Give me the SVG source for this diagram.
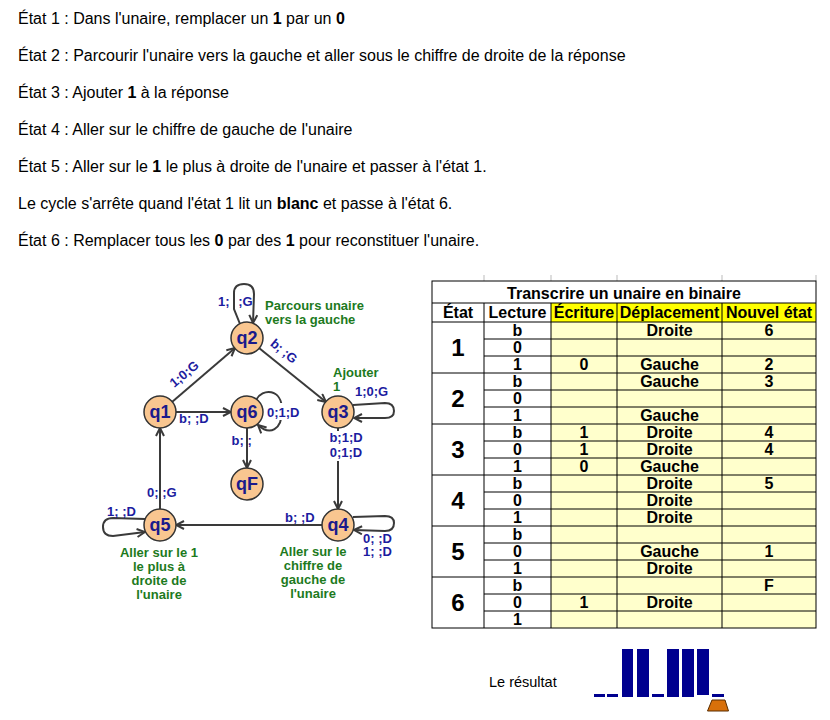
<svg xmlns="http://www.w3.org/2000/svg" width="830" height="720" viewBox="0 0 830 720">
<style>
.p{font-family:"Liberation Sans",Arial,sans-serif;font-size:16px;fill:#000}
.bd{font-weight:bold}
.node circle{fill:#f9c690;stroke:#333;stroke-width:1.5}
.node text{font-family:"Liberation Sans",Arial,sans-serif;font-weight:bold;font-size:18px;fill:#1a1a8c;text-anchor:middle}
.el{font-family:"Liberation Sans",Arial,sans-serif;font-weight:bold;font-size:13px;fill:#1c1ca0}
.gl{font-family:"Liberation Sans",Arial,sans-serif;font-weight:bold;font-size:13px;fill:#1d7a1d}
.edge{fill:none;stroke:#3a3a3a;stroke-width:2}
.t{font-family:"Liberation Sans",Arial,sans-serif;font-weight:bold;font-size:16px;fill:#000;text-anchor:middle}
.big{font-size:24px}
.grid{stroke:#000;stroke-width:1;fill:none}
.tick{stroke:#bbb;stroke-width:1}
.bar{fill:#00008f}
</style>
<defs>
<marker id="arr" viewBox="0 0 10 10" refX="9" refY="5" markerWidth="10" markerHeight="10" markerUnits="userSpaceOnUse" orient="auto">
<path d="M1,1 L9,5 L1,9" fill="none" stroke="#3a3a3a" stroke-width="2"/>
</marker>
</defs>
<rect width="830" height="720" fill="#fff"/>

<g id="description">
<text class="p" x="18" y="24">État 1 : Dans l'unaire, remplacer un <tspan class="bd">1</tspan> par un <tspan class="bd">0</tspan></text>
<text class="p" x="18" y="61">État 2 : Parcourir l'unaire vers la gauche et aller sous le chiffre de droite de la réponse</text>
<text class="p" x="18" y="98">État 3 : Ajouter <tspan class="bd">1</tspan> à la réponse</text>
<text class="p" x="18" y="135">État 4 : Aller sur le chiffre de gauche de l'unaire</text>
<text class="p" x="18" y="172">État 5 : Aller sur le <tspan class="bd">1</tspan> le plus à droite de l'unaire et passer à l'état 1.</text>
<text class="p" x="18" y="209">Le cycle s'arrête quand l'état 1 lit un <tspan class="bd">blanc</tspan> et passe à l'état 6.</text>
<text class="p" x="18" y="246">État 6 : Remplacer tous les <tspan class="bd">0</tspan> par des <tspan class="bd">1</tspan> pour reconstituer l'unaire.</text>
</g>

<g id="connectors">
<line class="edge" x1="172" y1="402" x2="235" y2="348" marker-end="url(#arr)"/>
<line class="edge" x1="259" y1="348" x2="326" y2="402" marker-end="url(#arr)"/>
<line class="edge" x1="176" y1="412" x2="231" y2="412" marker-end="url(#arr)"/>
<line class="edge" x1="247" y1="428" x2="247" y2="468" marker-end="url(#arr)"/>
<line class="edge" x1="338" y1="428" x2="338" y2="509" marker-end="url(#arr)"/>
<line class="edge" x1="322" y1="525" x2="176" y2="525" marker-end="url(#arr)"/>
<line class="edge" x1="160" y1="509" x2="160" y2="428" marker-end="url(#arr)"/>
<path class="edge" d="M240,324 L234,309 L234,293 Q234,284 244,284 Q254,284 254,294 L253,323" marker-end="url(#arr)"/>
<path class="edge" d="M353,405 L385,403 Q394,403 394,411 Q394,418 385,418 L354,418" marker-end="url(#arr)"/>
<path class="edge" d="M353,517 L385,516 Q394,516 394,523 Q394,531 385,531 L354,530" marker-end="url(#arr)"/>
<path class="edge" d="M145,519 L113,518 Q103,518 103,527 Q103,536 113,536 L145,532" marker-end="url(#arr)"/>
<path class="edge" d="M256,400 C262,388 282,388 282,410 C282,430 270,436 258,425" marker-end="url(#arr)"/>

<text class="el" transform="translate(184,374) rotate(-40)" text-anchor="middle" y="4.5">1;0;G</text>
<text class="el" transform="translate(284,351) rotate(39)" text-anchor="middle" y="4.5">b; ;G</text>
<text class="el" x="218" y="306">1;<tspan dx="5"> ;G</tspan></text>
<text class="el" x="355" y="396">1;0;G</text>
<text class="el" x="179" y="423">b; ;D</text>
<rect x="265" y="403" width="37" height="17" fill="#fff"/>
<text class="el" x="267" y="417">0;1;D</text>
<text class="el" x="231.5" y="445">b; ;</text>
<rect x="327" y="431" width="39" height="30" fill="#fff"/>
<text class="el" x="346" y="441.5" text-anchor="middle">b;1;D</text>
<text class="el" x="346" y="457" text-anchor="middle">0;1;D</text>
<text class="el" x="147" y="496.5">0; ;G</text>
<text class="el" x="107" y="515.5">1; ;D</text>
<text class="el" x="285" y="521.5">b; ;D</text>
<text class="el" x="363" y="542.5">0; ;D</text>
<text class="el" x="363" y="556">1; ;D</text>

<text class="gl" x="265" y="310">Parcours unaire</text>
<text class="gl" x="265" y="324">vers la gauche</text>
<text class="gl" x="333" y="377">Ajouter</text>
<text class="gl" x="333" y="391">1</text>
<text class="gl" text-anchor="middle" x="159" y="557">Aller sur le 1</text>
<text class="gl" text-anchor="middle" x="159" y="571">le plus à</text>
<text class="gl" text-anchor="middle" x="159" y="585">droite de</text>
<text class="gl" text-anchor="middle" x="159" y="599">l'unaire</text>
<text class="gl" text-anchor="middle" x="313" y="556">Aller sur le</text>
<text class="gl" text-anchor="middle" x="313" y="570">chiffre de</text>
<text class="gl" text-anchor="middle" x="313" y="584">gauche de</text>
<text class="gl" text-anchor="middle" x="313" y="598">l'unaire</text>
</g>

<g id="q2" class="node"><circle cx="247" cy="338" r="16"/><text x="247" y="344">q2</text></g>
<g id="q1" class="node"><circle cx="160" cy="412" r="16"/><text x="160" y="418">q1</text></g>
<g id="q6" class="node"><circle cx="247" cy="412" r="16"/><text x="247" y="418">q6</text></g>
<g id="q3" class="node"><circle cx="338" cy="412" r="16"/><text x="338" y="418">q3</text></g>
<g id="qF" class="node"><circle cx="247" cy="484" r="16"/><text x="247" y="490">qF</text></g>
<g id="q5" class="node"><circle cx="160" cy="525" r="16"/><text x="160" y="531">q5</text></g>
<g id="q4" class="node"><circle cx="338" cy="525" r="16"/><text x="338" y="531">q4</text></g>

<g id="table">
<line class="tick" x1="484" y1="275" x2="484" y2="281"/>
<line class="tick" x1="551" y1="275" x2="551" y2="281"/>
<line class="tick" x1="617" y1="275" x2="617" y2="281"/>
<line class="tick" x1="722" y1="275" x2="722" y2="281"/>
<line class="tick" x1="816" y1="275" x2="816" y2="281"/>
<rect x="432" y="281" width="384" height="347" fill="#fff"/>
<rect x="551" y="303" width="265" height="19" fill="#ffff00"/>
<rect x="551" y="322" width="265" height="306" fill="#ffffcc"/>
<g class="grid">
<rect x="432" y="281" width="384" height="347"/>
<path d="M432,303H816M432,322H816M432,373H816M432,424H816M432,475H816M432,526H816M432,577H816"/>
<path d="M484,339H816M484,356H816M484,390H816M484,407H816M484,441H816M484,458H816M484,492H816M484,509H816M484,543H816M484,560H816M484,594H816M484,611H816"/>
<path d="M484,303V628M551,303V628M617,303V628M722,303V628"/>
</g>
<text class="t" x="624" y="299">Transcrire un unaire en binaire</text>
<text class="t" x="458" y="318">État</text>
<text class="t" x="517.5" y="318">Lecture</text>
<text class="t" x="584" y="318">Écriture</text>
<text class="t" x="669.5" y="318">Déplacement</text>
<text class="t" x="769" y="318">Nouvel état</text>

<text class="t big" x="458" y="356">1</text>
<text class="t big" x="458" y="407">2</text>
<text class="t big" x="458" y="458">3</text>
<text class="t big" x="458" y="509">4</text>
<text class="t big" x="458" y="560">5</text>
<text class="t big" x="458" y="611">6</text>

<g class="t">
<text x="517.5" y="336">b</text><text x="517.5" y="353">0</text><text x="517.5" y="370">1</text>
<text x="517.5" y="387">b</text><text x="517.5" y="404">0</text><text x="517.5" y="421">1</text>
<text x="517.5" y="438">b</text><text x="517.5" y="455">0</text><text x="517.5" y="472">1</text>
<text x="517.5" y="489">b</text><text x="517.5" y="506">0</text><text x="517.5" y="523">1</text>
<text x="517.5" y="540">b</text><text x="517.5" y="557">0</text><text x="517.5" y="574">1</text>
<text x="517.5" y="591">b</text><text x="517.5" y="608">0</text><text x="517.5" y="625">1</text>

<text x="669.5" y="336">Droite</text><text x="769" y="336">6</text>
<text x="584" y="370">0</text><text x="669.5" y="370">Gauche</text><text x="769" y="370">2</text>
<text x="669.5" y="387">Gauche</text><text x="769" y="387">3</text>
<text x="669.5" y="421">Gauche</text>
<text x="584" y="438">1</text><text x="669.5" y="438">Droite</text><text x="769" y="438">4</text>
<text x="584" y="455">1</text><text x="669.5" y="455">Droite</text><text x="769" y="455">4</text>
<text x="584" y="472">0</text><text x="669.5" y="472">Gauche</text>
<text x="669.5" y="489">Droite</text><text x="769" y="489">5</text>
<text x="669.5" y="506">Droite</text>
<text x="669.5" y="523">Droite</text>
<text x="669.5" y="557">Gauche</text><text x="769" y="557">1</text>
<text x="669.5" y="574">Droite</text>
<text x="769" y="591">F</text>
<text x="584" y="608">1</text><text x="669.5" y="608">Droite</text>
</g>
</g>

<g id="result">
<text x="489" y="687" font-family="Liberation Sans, Arial, sans-serif" font-size="14.5" fill="#000">Le résultat</text>
<rect class="bar" x="594" y="694" width="11" height="3"/>
<rect class="bar" x="607" y="694" width="11" height="3"/>
<rect class="bar" x="622" y="649" width="11" height="48"/>
<rect class="bar" x="637" y="649" width="12" height="48"/>
<rect class="bar" x="652" y="694" width="12" height="3"/>
<rect class="bar" x="667" y="649" width="12" height="48"/>
<rect class="bar" x="682" y="649" width="12" height="48"/>
<rect class="bar" x="697" y="649" width="12" height="46"/>
<rect class="bar" x="712" y="694" width="12" height="3"/>
<polygon points="712,700 725,700 728.5,711 707.5,711" fill="#d8700a" stroke="#5a2d00" stroke-width="1"/>
</g>
</svg>
